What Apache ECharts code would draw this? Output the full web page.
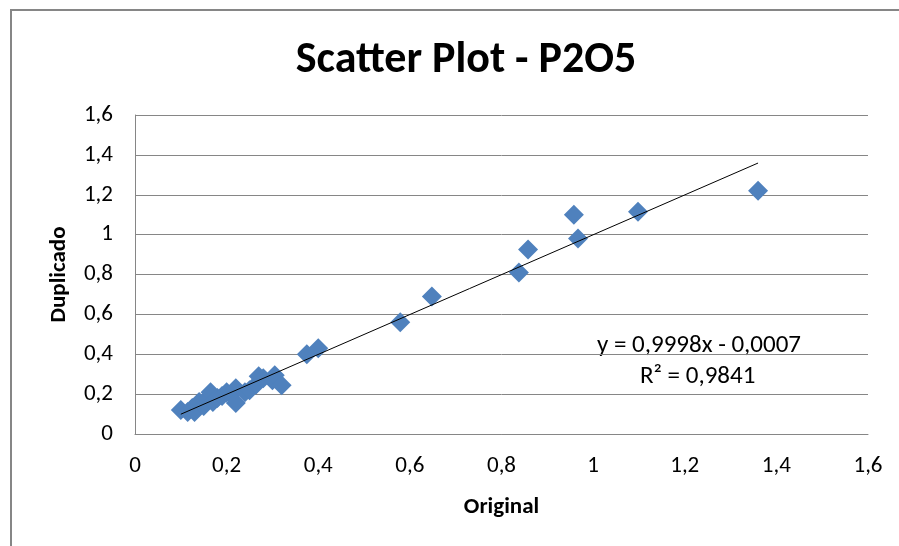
<!DOCTYPE html>
<html>
<head>
<meta charset="utf-8">
<script src="https://cdn.jsdelivr.net/npm/echarts@6/dist/echarts.min.js"></script>
<style>
html, body { margin: 0; padding: 0; background: #fff; }
#chart { width: 899px; height: 546px; }
</style>
</head>
<body>
<div id="chart"></div>
<script>
// valores
var original = [0.10, 0.115, 0.125, 0.13, 0.14, 0.15, 0.155, 0.165, 0.17, 0.18, 0.19, 0.20, 0.21, 0.22, 0.22, 0.24, 0.25, 0.265, 0.27, 0.28, 0.30, 0.305, 0.32, 0.375, 0.40, 0.579, 0.648, 0.838, 0.858, 0.958, 0.967, 1.098, 1.36];
var duplicado = [0.12, 0.11, 0.13, 0.11, 0.16, 0.14, 0.17, 0.21, 0.16, 0.18, 0.19, 0.21, 0.20, 0.155, 0.23, 0.21, 0.22, 0.25, 0.29, 0.28, 0.27, 0.295, 0.245, 0.40, 0.43, 0.56, 0.69, 0.81, 0.925, 1.10, 0.98, 1.115, 1.22];
var slope = 0.9998;
var intercept = -0.0007;
var eqText = 'y = 0,9998x - 0,0007';
var r2Text = 'R² = 0,9841';

var font = 'Carlito, "Liberation Sans Narrow", "Open Sans", sans-serif';

var points = original.map(function (x, i) { return [x, duplicado[i]]; });
var xMin = Math.min.apply(null, original);
var xMax = Math.max.apply(null, original);
var trend = [[xMin, slope * xMin + intercept], [xMax, slope * xMax + intercept]];

function fmt(v) {
    return String(Math.round(v * 10) / 10).replace('.', ',');
}

var chart = echarts.init(document.getElementById('chart'));
var option = {
    animation: false,
    backgroundColor: '#fff',
    title: {
        text: 'Scatter Plot - P2O5',
        left: 461,
        top: 34,
        textAlign: 'center',
        textStyle: { fontFamily: font, fontSize: 44, fontWeight: 'bold', color: '#000' }
    },
    grid: { left: 135, right: 31, top: 115, bottom: 112 },
    xAxis: {
        type: 'value',
        min: 0, max: 1.6, interval: 0.2,
        name: 'Original',
        nameLocation: 'middle',
        nameGap: 62,
        nameTextStyle: { fontFamily: font, fontSize: 23, fontWeight: 'bold', color: '#000' },
        axisLine: { lineStyle: { color: '#868686', width: 1 } },
        axisTick: { show: false },
        splitLine: { show: false },
        axisLabel: { formatter: fmt, margin: 21, fontFamily: font, fontSize: 23, color: '#000' }
    },
    yAxis: {
        type: 'value',
        min: 0, max: 1.6, interval: 0.2,
        name: 'Duplicado',
        nameLocation: 'middle',
        nameGap: 64,
        nameTextStyle: { fontFamily: font, fontSize: 23, fontWeight: 'bold', color: '#000' },
        axisLine: { show: true, lineStyle: { color: '#868686', width: 1 } },
        axisTick: { show: false },
        splitLine: { lineStyle: { color: '#868686', width: 1 } },
        axisLabel: { formatter: fmt, margin: 22, fontFamily: font, fontSize: 23, color: '#000' }
    },
    series: [
        {
            name: 'P2O5',
            type: 'scatter',
            symbol: 'diamond',
            symbolSize: 20,
            itemStyle: { color: '#4F81BD', opacity: 1 },
            data: points
        },
        {
            name: 'Linear',
            type: 'line',
            symbol: 'none',
            lineStyle: { color: '#000', width: 1 },
            data: trend,
            z: 3
        }
    ],
    graphic: [
        {
            type: 'rect',
            shape: { x: 11, y: 10, width: 900, height: 600 },
            style: { fill: 'none', stroke: '#868686', lineWidth: 2 },
            silent: true
        },
        {
            type: 'text',
            left: 597, top: 333,
            style: { text: eqText, fontFamily: font, fontSize: 25, fill: '#000' }
        },
        {
            type: 'text',
            left: 640, top: 364,
            style: { text: r2Text, fontFamily: font, fontSize: 25, fill: '#000' }
        }
    ]
};
chart.setOption(option);
</script>
</body>
</html>
